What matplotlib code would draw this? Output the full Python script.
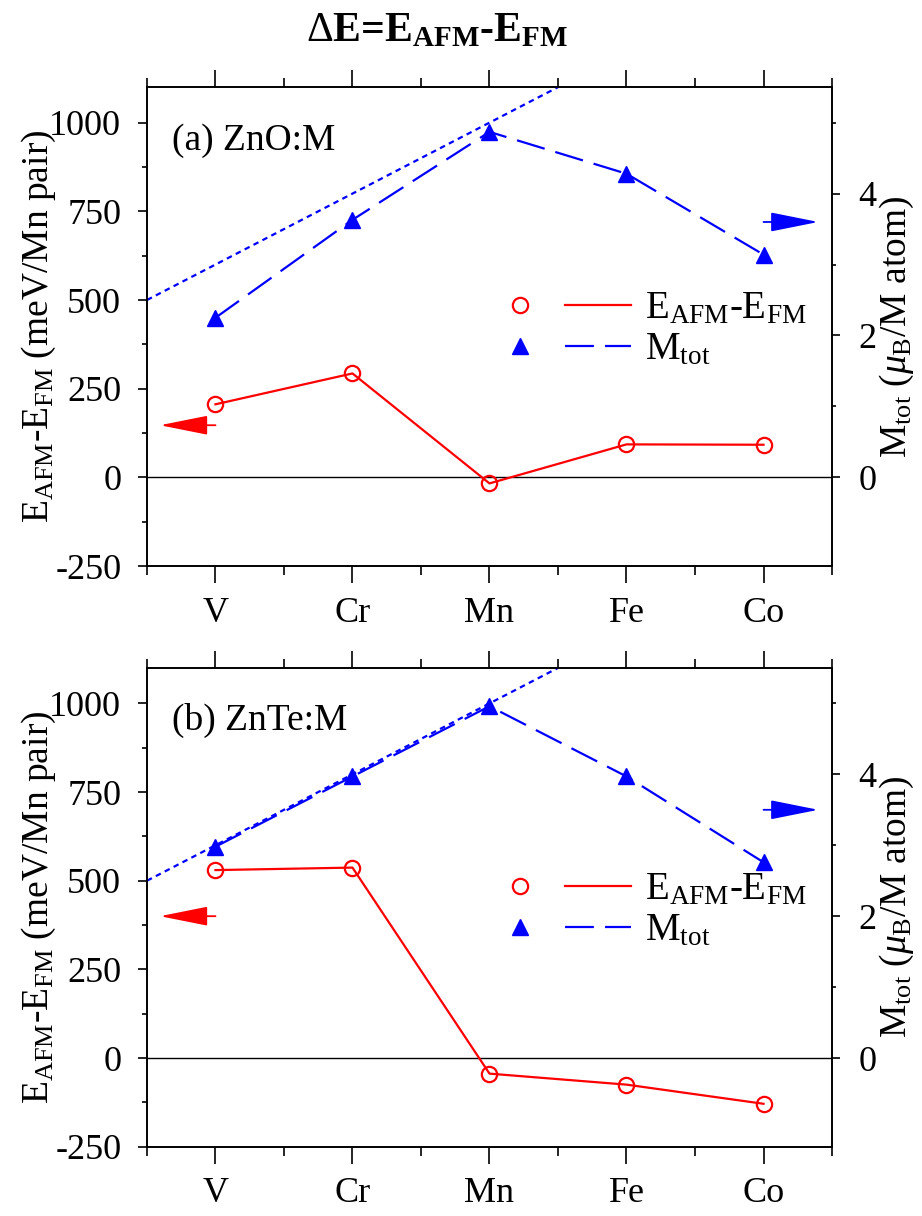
import matplotlib
matplotlib.use('Agg')
import matplotlib.pyplot as plt
from matplotlib.lines import Line2D
from matplotlib.legend_handler import HandlerTuple
from matplotlib.ticker import FixedLocator

plt.rcParams['font.family'] = ['Liberation Serif', 'DejaVu Serif']
plt.rcParams['mathtext.fontset'] = 'custom'
plt.rcParams['mathtext.rm'] = 'Liberation Serif'
plt.rcParams['mathtext.it'] = 'Liberation Serif:italic'
plt.rcParams['mathtext.bf'] = 'Liberation Serif:bold'
plt.rcParams['axes.unicode_minus'] = False

# ---------------- data ----------------
elements = ['V', 'Cr', 'Mn', 'Fe', 'Co']
xpos = [1, 2, 3, 4, 5]

zno_dE = [206, 293, -17, 93, 92]          # meV / Mn pair
zno_M = [2.25, 3.63, 4.87, 4.28, 3.14]    # muB / M atom
znte_dE = [530, 537, -44, -75, -129]
znte_M = [2.98, 3.97, 4.96, 3.97, 2.76]

ideal_x = [0.5, 3.5]                      # dotted reference line
ideal_M = [2.5, 5.5]

panel_labels = ['(a) ZnO:M', '(b) ZnTe:M']
e_arrow_y = [147, 400]                    # left-pointing red arrows (meV)
m_arrow_y = [3.6, 3.5]                    # right-pointing blue arrows (muB)

left_ticks = [-250, 0, 250, 500, 750, 1000]
left_minor = [-125, 125, 375, 625, 875]
right_ticks = [0, 2, 4]
right_minor = [1, 3, 5]

# ---------------- figure ----------------
fig = plt.figure(figsize=(9.22, 12.16), dpi=100)
positions = [[0.1594, 0.5345, 0.7430, 0.3938],
             [0.1594, 0.0570, 0.7430, 0.3937]]
datasets = [(zno_dE, zno_M), (znte_dE, znte_M)]

FS = 26
red = '#ff0000'
blue = '#0000ff'

for i, (pos, (dE, M)) in enumerate(zip(positions, datasets)):
    ax = fig.add_axes(pos)
    ax2 = ax.twinx()
    ax.set_xlim(0.5, 5.5)
    ax.set_ylim(-250, 1100)
    ax2.set_ylim(-1.25, 5.5)

    ax.axhline(0, color='black', lw=1.0, zorder=1)

    # E_AFM - E_FM
    ax.plot(xpos, dE, color=red, lw=1.6, marker='o', ms=11, mfc='none',
            mec=red, mew=1.6, zorder=3)
    # M_tot
    ax2.plot(ideal_x, ideal_M, color=blue, lw=1.6, ls=(0, (2.5, 2.0)), zorder=2)
    ax2.plot(xpos, M, color=blue, lw=1.6, ls=(0, (13, 5)), marker='^', ms=12,
             mfc=blue, mec=blue, zorder=3)

    # direction arrows
    ax.annotate('', xy=(0.595, e_arrow_y[i]), xytext=(1.0, e_arrow_y[i]),
                arrowprops=dict(arrowstyle='-|>,head_length=1.5,head_width=0.3',
                                color=red, lw=1.3, shrinkA=0, shrinkB=0,
                                mutation_scale=20))
    ax2.annotate('', xy=(5.40, m_arrow_y[i]), xytext=(5.0, m_arrow_y[i]),
                 arrowprops=dict(arrowstyle='-|>,head_length=1.5,head_width=0.3',
                                 color=blue, lw=1.3, shrinkA=0, shrinkB=0,
                                 mutation_scale=20))

    # ticks
    ax.set_xticks(xpos)
    ax.set_xticklabels(elements)
    ax.xaxis.set_minor_locator(FixedLocator([0.5, 1.5, 2.5, 3.5, 4.5, 5.5]))
    ax.set_yticks(left_ticks)
    ax.yaxis.set_minor_locator(FixedLocator(left_minor))
    ax2.set_yticks(right_ticks)
    ax2.yaxis.set_minor_locator(FixedLocator(right_minor))

    ax.tick_params(axis='x', which='major', direction='out', top=True,
                   length=12, width=1.2, labelsize=FS, pad=10)
    ax.tick_params(axis='x', which='minor', direction='out', top=True,
                   length=6.5, width=1.2)
    ax.tick_params(axis='y', which='major', direction='out', length=6.5,
                   width=1.2, labelsize=FS, pad=12)
    ax.tick_params(axis='y', which='minor', direction='out', length=3.6, width=1.2)
    ax2.tick_params(axis='y', which='major', direction='out', length=6,
                    width=1.2, labelsize=FS, pad=13)
    ax2.tick_params(axis='y', which='minor', direction='out', length=3.2, width=1.2)

    for a in (ax, ax2):
        for s in a.spines.values():
            s.set_linewidth(1.2)

    # labels
    ax.set_ylabel(r'E$_{\mathrm{AFM}}$-E$_{\mathrm{FM}}$ (meV/Mn pair)',
                  fontsize=27, va='center')
    ax.yaxis.set_label_coords(-0.158, 0.5)
    ax2.set_ylabel(r'M$_{\mathrm{tot}}$ ($\mu_{\mathrm{B}}$/M atom)',
                   fontsize=27, va='center', rotation=90)
    ax2.yaxis.set_label_coords(1.095, 0.5)

    ax.text(0.036, 0.870, panel_labels[i], transform=ax.transAxes,
            fontsize=27, va='baseline', ha='left')

    # legend
    h_e = (Line2D([], [], ls='none', marker='o', ms=11, mfc='none', mec=red, mew=1.6),
           Line2D([], [], color=red, lw=1.6))
    h_m = (Line2D([], [], ls='none', marker='^', ms=11, mfc=blue, mec=blue),
           Line2D([], [], color=blue, lw=1.6, ls=(0, (13, 5))))
    leg = ax2.legend([h_e, h_m],
                     [r'E$_{\mathrm{AFM}}$-E$_{\mathrm{FM}}$', r'M$_{\mathrm{tot}}$'],
                     handler_map={tuple: HandlerTuple(ndivide=None, pad=0.3)},
                     loc='center left', bbox_to_anchor=(0.497, 0.494),
                     frameon=False, fontsize=28, handlelength=3.7,
                     handletextpad=0.35, labelspacing=0.1,
                     borderpad=0, borderaxespad=0)

fig.text(0.474, 0.966, r'$\Delta$E=E$_{\mathbf{AFM}}$-E$_{\mathbf{FM}}$',
         fontsize=30, fontweight='bold', ha='center', va='baseline')

fig.savefig('out.png', dpi=100)
